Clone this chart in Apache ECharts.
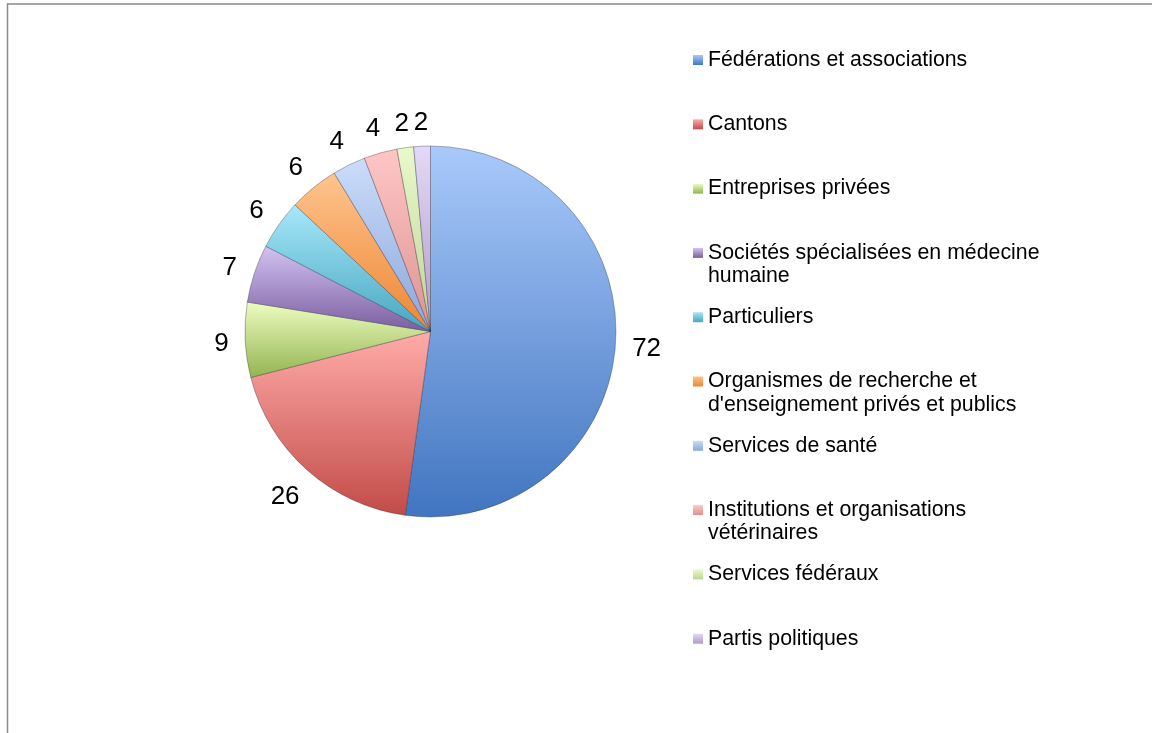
<!DOCTYPE html>
<html>
<head>
<meta charset="utf-8">
<script src="https://cdn.jsdelivr.net/npm/echarts@6/dist/echarts.min.js"></script>
<style>
html,body{margin:0;padding:0;background:#fff;}
#chart{width:1152px;height:733px;}
</style>
</head>
<body>
<div id="chart"></div>
<script>
const categories = [
  "Fédérations et associations",
  "Cantons",
  "Entreprises privées",
  "Sociétés spécialisées en médecine humaine",
  "Particuliers",
  "Organismes de recherche et d'enseignement privés et publics",
  "Services de santé",
  "Institutions et organisations vétérinaires",
  "Services fédéraux",
  "Partis politiques"
];
const values = [72, 26, 9, 7, 6, 6, 4, 4, 2, 2];
const legendLabels = [
  "Fédérations et associations",
  "Cantons",
  "Entreprises privées",
  "Sociétés spécialisées en médecine\nhumaine",
  "Particuliers",
  "Organismes de recherche et\nd'enseignement privés et publics",
  "Services de santé",
  "Institutions et organisations\nvétérinaires",
  "Services fédéraux",
  "Partis politiques"
];
const topColors = ["#A9C9FA","#FFACA9","#EEFDC2","#D3C3F2","#A8E8FA","#FFC48E","#CCDDFA","#FFC6C6","#E9F9CB","#E4D9F7"];
const bottomColors = ["#4175C0","#C24B48","#93B450","#7A5E9F","#45A6C0","#EC8633","#8AA6DA","#DC9392","#BFD396","#AE9CC4"];

const chart = echarts.init(document.getElementById('chart'));
const FONT = "Arial, 'Liberation Sans', sans-serif";
const PIE_CX = 430.5, PIE_CY = 331.5, PIE_R = 185.5, LABEL_GAP = 16, GLYPH_DY = 2.5;

const total = values.reduce((a, b) => a + b, 0);
function midAngle(idx) {
  let before = 0;
  for (let k = 0; k < idx; k++) before += values[k];
  return (before + values[idx] / 2) / total * Math.PI * 2; // clockwise from 12 o'clock
}

const seriesData = categories.map((name, i) => ({
  name: name,
  value: values[i],
  itemStyle: {
    color: new echarts.graphic.LinearGradient(0, 0, 0, 1, [
      {offset: 0, color: topColors[i]},
      {offset: 1, color: bottomColors[i]}
    ])
  }
}));

const LH = 23.5;
const legendCenters0 = 60;
const legendStep = 64.3;
const legends = categories.map((name, i) => {
  const parts = legendLabels[i].split("\n");
  const txt = "\n" + parts[0] + "\n" + (parts[1] || "");
  return {
    data: [name],
    orient: 'vertical',
    left: 693,
    top: legendCenters0 + i * legendStep - 1.5 * LH,
    padding: 0,
    itemWidth: 10,
    itemHeight: 10,
    icon: 'rect',
    itemStyle: {borderWidth: 0},
    selectedMode: false,
    formatter: function () { return txt; },
    textStyle: {
      fontFamily: FONT,
      fontSize: 21.3,
      lineHeight: LH,
      color: '#000'
    }
  };
});

chart.setOption({
  backgroundColor: '#fff',
  animation: false,
  graphic: [{
    type: 'rect',
    shape: {x: 7.5, y: 4, width: 1300, height: 900},
    style: {fill: 'none', stroke: '#8a8a8a', lineWidth: 1.5},
    silent: true
  }],
  legend: legends,
  series: [{
    type: 'pie',
    center: [PIE_CX, PIE_CY],
    radius: [0, PIE_R],
    startAngle: 90,
    clockwise: true,
    avoidLabelOverlap: false,
    data: seriesData,
    itemStyle: {
      borderColor: 'rgba(40,40,60,0.35)',
      borderWidth: 1
    },
    label: {
      show: true,
      position: 'outside',
      formatter: '{c}',
      fontFamily: FONT,
      fontSize: 26,
      color: '#000',
      distanceToLabelLine: 5
    },
    labelLine: {show: false, length: 16, length2: 0},
    labelLayout: function (params) {
      const a = midAngle(params.dataIndex);
      const ux = Math.sin(a), uy = -Math.cos(a);
      const r = params.labelRect;
      const w = r.width, h = r.height * 0.75;
      const ext = (w * Math.abs(ux) + h * Math.abs(uy)) / 2;
      const d = PIE_R + LABEL_GAP + ext;
      const tx = PIE_CX + d * ux, ty = PIE_CY + d * uy + GLYPH_DY;
      return {dx: tx - (r.x + r.width / 2), dy: ty - (r.y + r.height / 2)};
    },
    emphasis: {disabled: true}
  }]
});
</script>
</body>
</html>
